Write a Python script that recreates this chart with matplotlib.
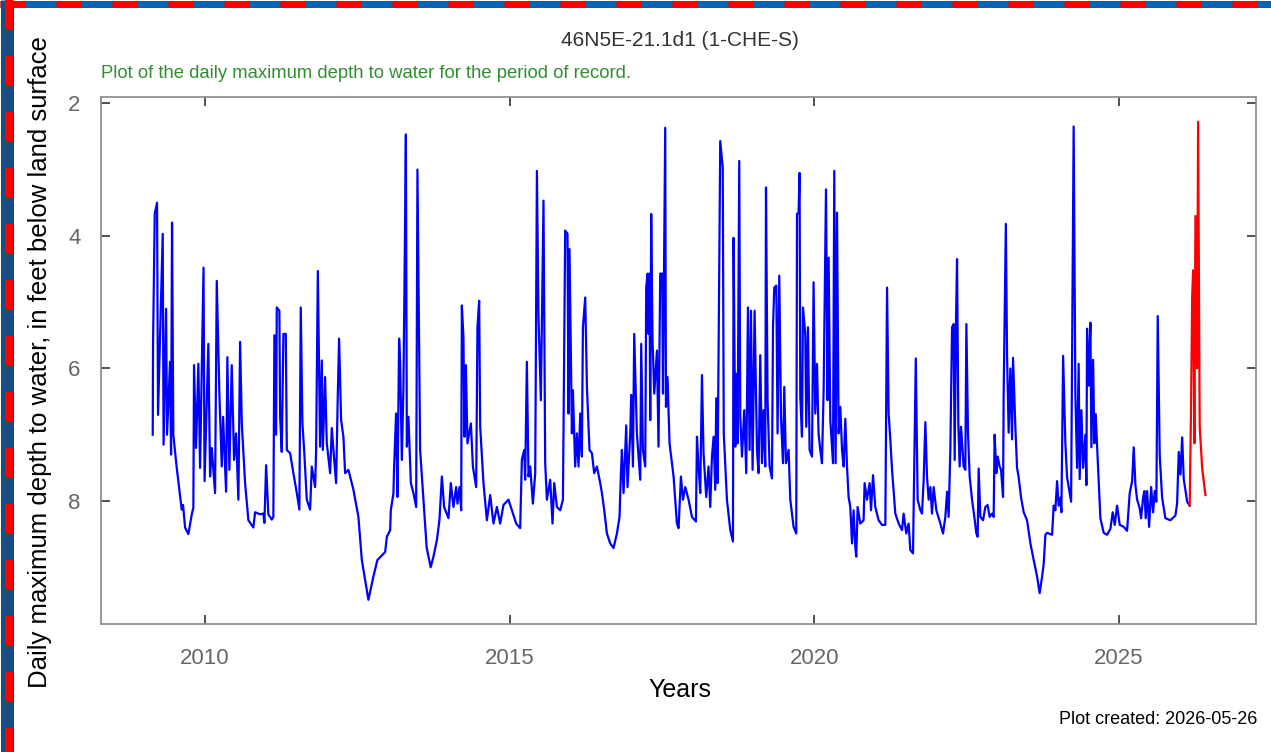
import matplotlib
matplotlib.use("Agg")
import matplotlib.pyplot as plt
from matplotlib.lines import Line2D

plt.rcParams['font.family'] = ['Liberation Sans', 'DejaVu Sans']
plt.rcParams['lines.scale_dashes'] = False

# ---------------- data (decimal year, depth to water in ft) ----------------
years_approved = [
    2009.141, 2009.146, 2009.174, 2009.212, 2009.228, 2009.305, 2009.319, 2009.360, 2009.376, 2009.425,
    2009.442, 2009.458, 2009.479, 2009.535, 2009.617, 2009.639, 2009.672, 2009.726, 2009.782, 2009.808,
    2009.819, 2009.852, 2009.890, 2009.918, 2009.975, 2009.992, 2010.054, 2010.082, 2010.110, 2010.164,
    2010.192, 2010.235, 2010.274, 2010.296, 2010.345, 2010.366, 2010.399, 2010.438, 2010.476, 2010.509,
    2010.547, 2010.575, 2010.603, 2010.657, 2010.711, 2010.793, 2010.821, 2010.903, 2010.957, 2010.974,
    2011.002, 2011.039, 2011.095, 2011.121, 2011.138, 2011.166, 2011.177, 2011.220, 2011.232, 2011.259,
    2011.286, 2011.325, 2011.342, 2011.396, 2011.450, 2011.506, 2011.548, 2011.571, 2011.598, 2011.626,
    2011.670, 2011.724, 2011.752, 2011.806, 2011.823, 2011.851, 2011.888, 2011.916, 2011.933, 2011.970,
    2011.998, 2012.053, 2012.080, 2012.107, 2012.151, 2012.179, 2012.200, 2012.233, 2012.271, 2012.299,
    2012.353, 2012.435, 2012.517, 2012.573, 2012.681, 2012.763, 2012.829, 2012.956, 2012.984, 2013.038,
    2013.049, 2013.092, 2013.103, 2013.136, 2013.158, 2013.185, 2013.202, 2013.230, 2013.256, 2013.273,
    2013.296, 2013.312, 2013.338, 2013.378, 2013.420, 2013.465, 2013.486, 2013.530, 2013.585, 2013.637,
    2013.703, 2013.749, 2013.805, 2013.847, 2013.887, 2013.924, 2013.995, 2014.034, 2014.077, 2014.121,
    2014.143, 2014.176, 2014.204, 2014.215, 2014.241, 2014.258, 2014.281, 2014.307, 2014.363, 2014.396,
    2014.450, 2014.471, 2014.499, 2014.516, 2014.570, 2014.626, 2014.680, 2014.734, 2014.790, 2014.844,
    2014.898, 2014.980, 2015.036, 2015.107, 2015.172, 2015.200, 2015.238, 2015.254, 2015.282, 2015.309,
    2015.337, 2015.381, 2015.419, 2015.447, 2015.473, 2015.512, 2015.555, 2015.583, 2015.611, 2015.665,
    2015.703, 2015.731, 2015.775, 2015.829, 2015.874, 2015.883, 2015.911, 2015.949, 2015.965, 2015.982,
    2016.021, 2016.038, 2016.075, 2016.103, 2016.130, 2016.158, 2016.185, 2016.202, 2016.240, 2016.268,
    2016.310, 2016.350, 2016.387, 2016.432, 2016.486, 2016.514, 2016.552, 2016.596, 2016.650, 2016.704,
    2016.760, 2016.803, 2016.826, 2016.842, 2016.869, 2016.913, 2016.934, 2016.979, 2016.995, 2017.023,
    2017.044, 2017.088, 2017.115, 2017.143, 2017.159, 2017.187, 2017.225, 2017.241, 2017.263, 2017.279,
    2017.295, 2017.307, 2017.323, 2017.345, 2017.373, 2017.417, 2017.443, 2017.471, 2017.504, 2017.516,
    2017.553, 2017.565, 2017.591, 2017.624, 2017.690, 2017.745, 2017.772, 2017.811, 2017.844, 2017.882,
    2017.936, 2017.992, 2018.057, 2018.074, 2018.100, 2018.128, 2018.156, 2018.182, 2018.226, 2018.264,
    2018.292, 2018.320, 2018.347, 2018.374, 2018.391, 2018.412, 2018.456, 2018.497, 2018.514, 2018.566,
    2018.621, 2018.665, 2018.675, 2018.703, 2018.719, 2018.741, 2018.768, 2018.785, 2018.813, 2018.850,
    2018.883, 2018.911, 2018.938, 2018.961, 2018.987, 2019.020, 2019.059, 2019.085, 2019.113, 2019.141,
    2019.167, 2019.195, 2019.207, 2019.233, 2019.266, 2019.305, 2019.322, 2019.343, 2019.376, 2019.397,
    2019.425, 2019.453, 2019.486, 2019.507, 2019.535, 2019.578, 2019.606, 2019.660, 2019.704, 2019.716,
    2019.742, 2019.758, 2019.770, 2019.798, 2019.814, 2019.852, 2019.868, 2019.896, 2019.923, 2019.962,
    2019.988, 2020.016, 2020.044, 2020.070, 2020.098, 2020.126, 2020.153, 2020.192, 2020.218, 2020.235,
    2020.263, 2020.307, 2020.328, 2020.350, 2020.373, 2020.399, 2020.427, 2020.455, 2020.481, 2020.509,
    2020.537, 2020.563, 2020.591, 2020.619, 2020.645, 2020.673, 2020.689, 2020.711, 2020.755, 2020.809,
    2020.826, 2020.865, 2020.908, 2020.931, 2020.964, 2021.001, 2021.056, 2021.111, 2021.166, 2021.194,
    2021.220, 2021.248, 2021.276, 2021.330, 2021.384, 2021.440, 2021.466, 2021.510, 2021.548, 2021.576,
    2021.620, 2021.666, 2021.696, 2021.741, 2021.768, 2021.795, 2021.823, 2021.850, 2021.877, 2021.905,
    2021.932, 2021.959, 2022.003, 2022.069, 2022.113, 2022.151, 2022.179, 2022.205, 2022.233, 2022.261,
    2022.287, 2022.304, 2022.326, 2022.343, 2022.364, 2022.386, 2022.409, 2022.451, 2022.479, 2022.496,
    2022.523, 2022.550, 2022.589, 2022.627, 2022.660, 2022.681, 2022.698, 2022.726, 2022.770, 2022.808,
    2022.845, 2022.878, 2022.918, 2022.944, 2022.960, 2022.988, 2023.010, 2023.042, 2023.065, 2023.098,
    2023.108, 2023.144, 2023.164, 2023.190, 2023.218, 2023.246, 2023.262, 2023.300, 2023.328, 2023.354,
    2023.394, 2023.437, 2023.492, 2023.547, 2023.601, 2023.657, 2023.699, 2023.739, 2023.765, 2023.793,
    2023.821, 2023.903, 2023.929, 2023.957, 2023.985, 2024.011, 2024.039, 2024.056, 2024.084, 2024.121,
    2024.149, 2024.187, 2024.215, 2024.231, 2024.257, 2024.285, 2024.313, 2024.339, 2024.356, 2024.384,
    2024.412, 2024.450, 2024.466, 2024.477, 2024.504, 2024.532, 2024.548, 2024.576, 2024.597, 2024.619,
    2024.652, 2024.696, 2024.750, 2024.806, 2024.860, 2024.898, 2024.931, 2024.970, 2025.013, 2025.079,
    2025.134, 2025.177, 2025.217, 2025.243, 2025.271, 2025.299, 2025.341, 2025.364, 2025.397, 2025.418,
    2025.440, 2025.463, 2025.496, 2025.529, 2025.561, 2025.588, 2025.615, 2025.637, 2025.670, 2025.709,
    2025.763, 2025.845, 2025.927, 2025.955, 2025.982, 2026.010, 2026.038, 2026.064, 2026.120, 2026.162,
]
depth_approved = [
    7.00, 5.65, 3.67, 3.50, 6.70, 3.97, 7.15, 5.10, 7.00, 5.90,
    7.30, 3.80, 7.00, 7.50, 8.13, 8.06, 8.40, 8.50, 8.20, 8.10,
    5.95, 7.20, 5.93, 7.50, 4.48, 7.70, 5.63, 7.63, 7.20, 7.88,
    4.68, 6.38, 7.48, 6.73, 7.86, 5.83, 7.53, 5.95, 7.38, 6.98,
    7.98, 5.60, 6.83, 7.73, 8.29, 8.40, 8.17, 8.20, 8.19, 8.33,
    7.46, 8.20, 8.28, 8.24, 5.50, 7.00, 5.08, 5.13, 6.73, 7.26,
    5.48, 5.48, 7.23, 7.28, 7.58, 7.88, 8.13, 5.08, 6.83, 7.23,
    7.98, 8.13, 7.48, 7.79, 7.23, 4.53, 7.18, 5.88, 7.23, 6.13,
    7.13, 7.58, 6.90, 7.23, 7.73, 6.38, 5.55, 6.78, 7.03, 7.58,
    7.53, 7.83, 8.24, 8.89, 9.49, 9.14, 8.89, 8.77, 8.54, 8.44,
    8.14, 7.88, 7.48, 6.68, 7.94, 5.55, 5.90, 7.38, 6.28, 4.78,
    2.47, 7.18, 6.73, 7.73, 7.88, 8.09, 3.00, 7.23, 7.98, 8.70,
    9.00, 8.84, 8.59, 8.29, 7.63, 8.09, 8.26, 7.73, 8.09, 7.79,
    8.04, 7.79, 8.14, 5.05, 5.53, 7.03, 5.95, 7.13, 6.83, 7.48,
    7.79, 5.38, 4.98, 6.88, 7.73, 8.29, 7.91, 8.34, 8.09, 8.34,
    8.06, 7.98, 8.14, 8.34, 8.41, 7.38, 7.23, 7.68, 5.90, 7.63,
    7.48, 8.04, 7.58, 3.02, 5.23, 6.48, 3.47, 7.43, 7.98, 7.68,
    8.34, 7.73, 8.09, 8.14, 7.98, 6.98, 3.92, 3.97, 6.68, 4.20,
    6.98, 6.33, 7.48, 6.98, 7.48, 6.68, 7.33, 5.38, 4.93, 6.28,
    7.23, 7.28, 7.58, 7.48, 7.73, 7.88, 8.14, 8.49, 8.64, 8.71,
    8.49, 8.24, 7.58, 7.23, 7.88, 6.86, 7.79, 6.98, 6.40, 7.48,
    5.48, 6.98, 7.33, 7.68, 5.63, 7.23, 7.48, 4.78, 4.57, 5.48,
    4.57, 6.78, 3.67, 5.58, 6.38, 5.73, 7.18, 4.57, 4.57, 6.38,
    2.37, 6.58, 6.13, 7.13, 7.63, 8.34, 8.41, 7.63, 7.98, 7.79,
    7.98, 8.24, 8.31, 7.03, 7.48, 7.88, 6.10, 7.28, 7.94, 7.48,
    8.09, 7.33, 7.03, 7.83, 6.45, 7.73, 2.57, 2.97, 6.98, 7.98,
    8.44, 8.61, 4.03, 7.18, 6.08, 7.13, 2.87, 6.73, 7.33, 6.63,
    7.58, 5.08, 7.23, 5.13, 7.53, 5.13, 7.23, 7.58, 5.80, 7.43,
    6.63, 7.48, 3.27, 6.48, 7.48, 7.66, 5.38, 4.78, 4.75, 6.98,
    4.60, 6.73, 7.43, 6.28, 7.43, 7.23, 7.98, 8.39, 8.49, 3.67,
    3.65, 3.05, 6.43, 7.03, 5.08, 5.48, 6.88, 5.38, 7.23, 7.33,
    4.70, 6.68, 5.93, 6.98, 7.23, 7.43, 6.33, 3.30, 6.48, 4.33,
    6.78, 7.43, 3.02, 7.43, 3.65, 6.98, 6.58, 7.23, 7.48, 6.76,
    7.48, 7.94, 8.09, 8.64, 8.14, 8.69, 8.84, 8.09, 8.34, 8.29,
    7.73, 7.98, 7.73, 8.14, 7.61, 8.09, 8.29, 8.36, 8.36, 4.78,
    6.68, 7.08, 7.53, 8.19, 8.34, 8.44, 8.19, 8.49, 8.34, 8.74,
    8.79, 5.85, 7.98, 8.14, 8.19, 7.68, 6.81, 7.63, 7.98, 7.79,
    8.19, 7.79, 8.14, 8.34, 8.49, 8.24, 7.86, 8.24, 7.23, 5.38,
    5.33, 7.38, 5.28, 4.35, 6.83, 7.48, 6.88, 7.48, 7.53, 5.33,
    6.98, 7.63, 7.98, 8.24, 8.49, 8.54, 7.51, 8.24, 8.29, 8.09,
    8.06, 8.24, 8.19, 8.24, 7.00, 7.58, 7.33, 7.48, 7.53, 7.94,
    6.40, 3.82, 5.81, 6.97, 6.00, 7.07, 5.84, 6.88, 7.50, 7.64,
    7.95, 8.17, 8.29, 8.64, 8.89, 9.14, 9.39, 9.14, 8.95, 8.51,
    8.48, 8.51, 8.07, 8.14, 7.70, 8.07, 7.95, 8.17, 5.81, 7.13,
    7.64, 7.85, 8.01, 5.90, 2.35, 6.37, 7.50, 5.93, 7.67, 6.63,
    7.50, 7.00, 7.76, 5.40, 6.26, 5.31, 7.19, 5.87, 7.13, 6.69,
    7.38, 8.26, 8.48, 8.51, 8.42, 8.17, 8.36, 8.07, 8.36, 8.39,
    8.45, 7.88, 7.70, 7.19, 7.76, 7.98, 8.11, 8.26, 7.95, 7.85,
    8.26, 7.85, 8.39, 7.79, 8.17, 7.85, 8.01, 5.21, 7.32, 7.95,
    8.26, 8.29, 8.22, 8.04, 7.26, 7.60, 7.04, 7.67, 8.01, 8.07,
]
years_provisional = [2026.162, 2026.185, 2026.202, 2026.218, 2026.239, 2026.256,
                     2026.283, 2026.300, 2026.326, 2026.366, 2026.420]
depth_provisional = [8.07, 6.50, 4.93, 4.52, 7.13, 3.70, 6.00, 2.28, 6.88, 7.50, 7.91]

x_ticks = [2010, 2015, 2020, 2025]
x_tick_labels = ["2010", "2015", "2020", "2025"]
y_ticks = [2, 4, 6, 8]
y_tick_labels = ["2", "4", "6", "8"]

title_text = "46N5E-21.1d1 (1-CHE-S)"
subtitle_text = "Plot of the daily maximum depth to water for the period of record."
ylabel_text = "Daily maximum depth to water, in feet below land surface"
xlabel_text = "Years"
created_text = "Plot created: 2026-05-26"

# ---------------- figure ----------------
W, H = 1271, 752
fig = plt.figure(figsize=(W / 100, H / 100), dpi=100)
fig.patch.set_facecolor("white")

ax = fig.add_axes([100.7 / W, 1 - 624.3 / H, (1256 - 100.7) / W, (624.3 - 97.3) / H])
ax.plot(years_approved, depth_approved, color="#0000ff", lw=1.6)
ax.plot(years_provisional, depth_provisional, color="#ff0000", lw=1.6)

ax.set_xlim(2008.287, 2027.25)
ax.set_ylim(9.86, 1.91)
ax.set_xticks(x_ticks)
ax.set_xticklabels(x_tick_labels)
ax.set_yticks(y_ticks)
ax.set_yticklabels(y_tick_labels)
ax.tick_params(axis="both", direction="in", top=True, right=True, length=6.5, width=1.2,
               color="#333333", labelcolor="#666666", labelsize=16)
ax.tick_params(axis="x", pad=17)
ax.tick_params(axis="y", pad=14.5)
for s in ax.spines.values():
    s.set_color("#888888")
    s.set_linewidth(1.2)

fig.text(679.5 / W, 1 - 40 / H, title_text, ha="center", va="center", fontsize=15, color="#333333")
fig.text(101 / W, 1 - 73 / H, subtitle_text, ha="left", va="center", fontsize=13.3, color="#2f8f2f")
fig.text(40 / W, 1 - 362 / H, ylabel_text, ha="center", va="center", rotation=90, fontsize=18.5, color="black")
fig.text(680 / W, 1 - 690 / H, xlabel_text, ha="center", va="center", fontsize=18, color="black")
fig.text(1257 / W, 1 - 720 / H, created_text, ha="right", va="center", fontsize=13, color="black")

# ---------------- dashed airmail-style border ----------------
def px_line(xs, ys, color, width_px, dashes=None):
    ln = Line2D([x / W for x in xs], [1 - y / H for y in ys], transform=fig.transFigure,
                color=color, lw=width_px * 0.72, solid_capstyle="butt", dash_capstyle="butt")
    if dashes is not None:
        ln.set_linestyle((0, dashes))
    fig.add_artist(ln)

# top edge
px_line([0, W], [3.5, 3.5], "#0a62b0", 7)
px_line([0, W], [3.5, 3.5], "#ff0000", 7, (25 * 0.72, 31 * 0.72))
# left edge
px_line([6.5, 6.5], [0, H], "#17507f", 13)
px_line([9, 9], [0, H], "#ff0000", 8, (30 * 0.72, 26 * 0.72))

fig.savefig("out.png", dpi=100, facecolor="white")
